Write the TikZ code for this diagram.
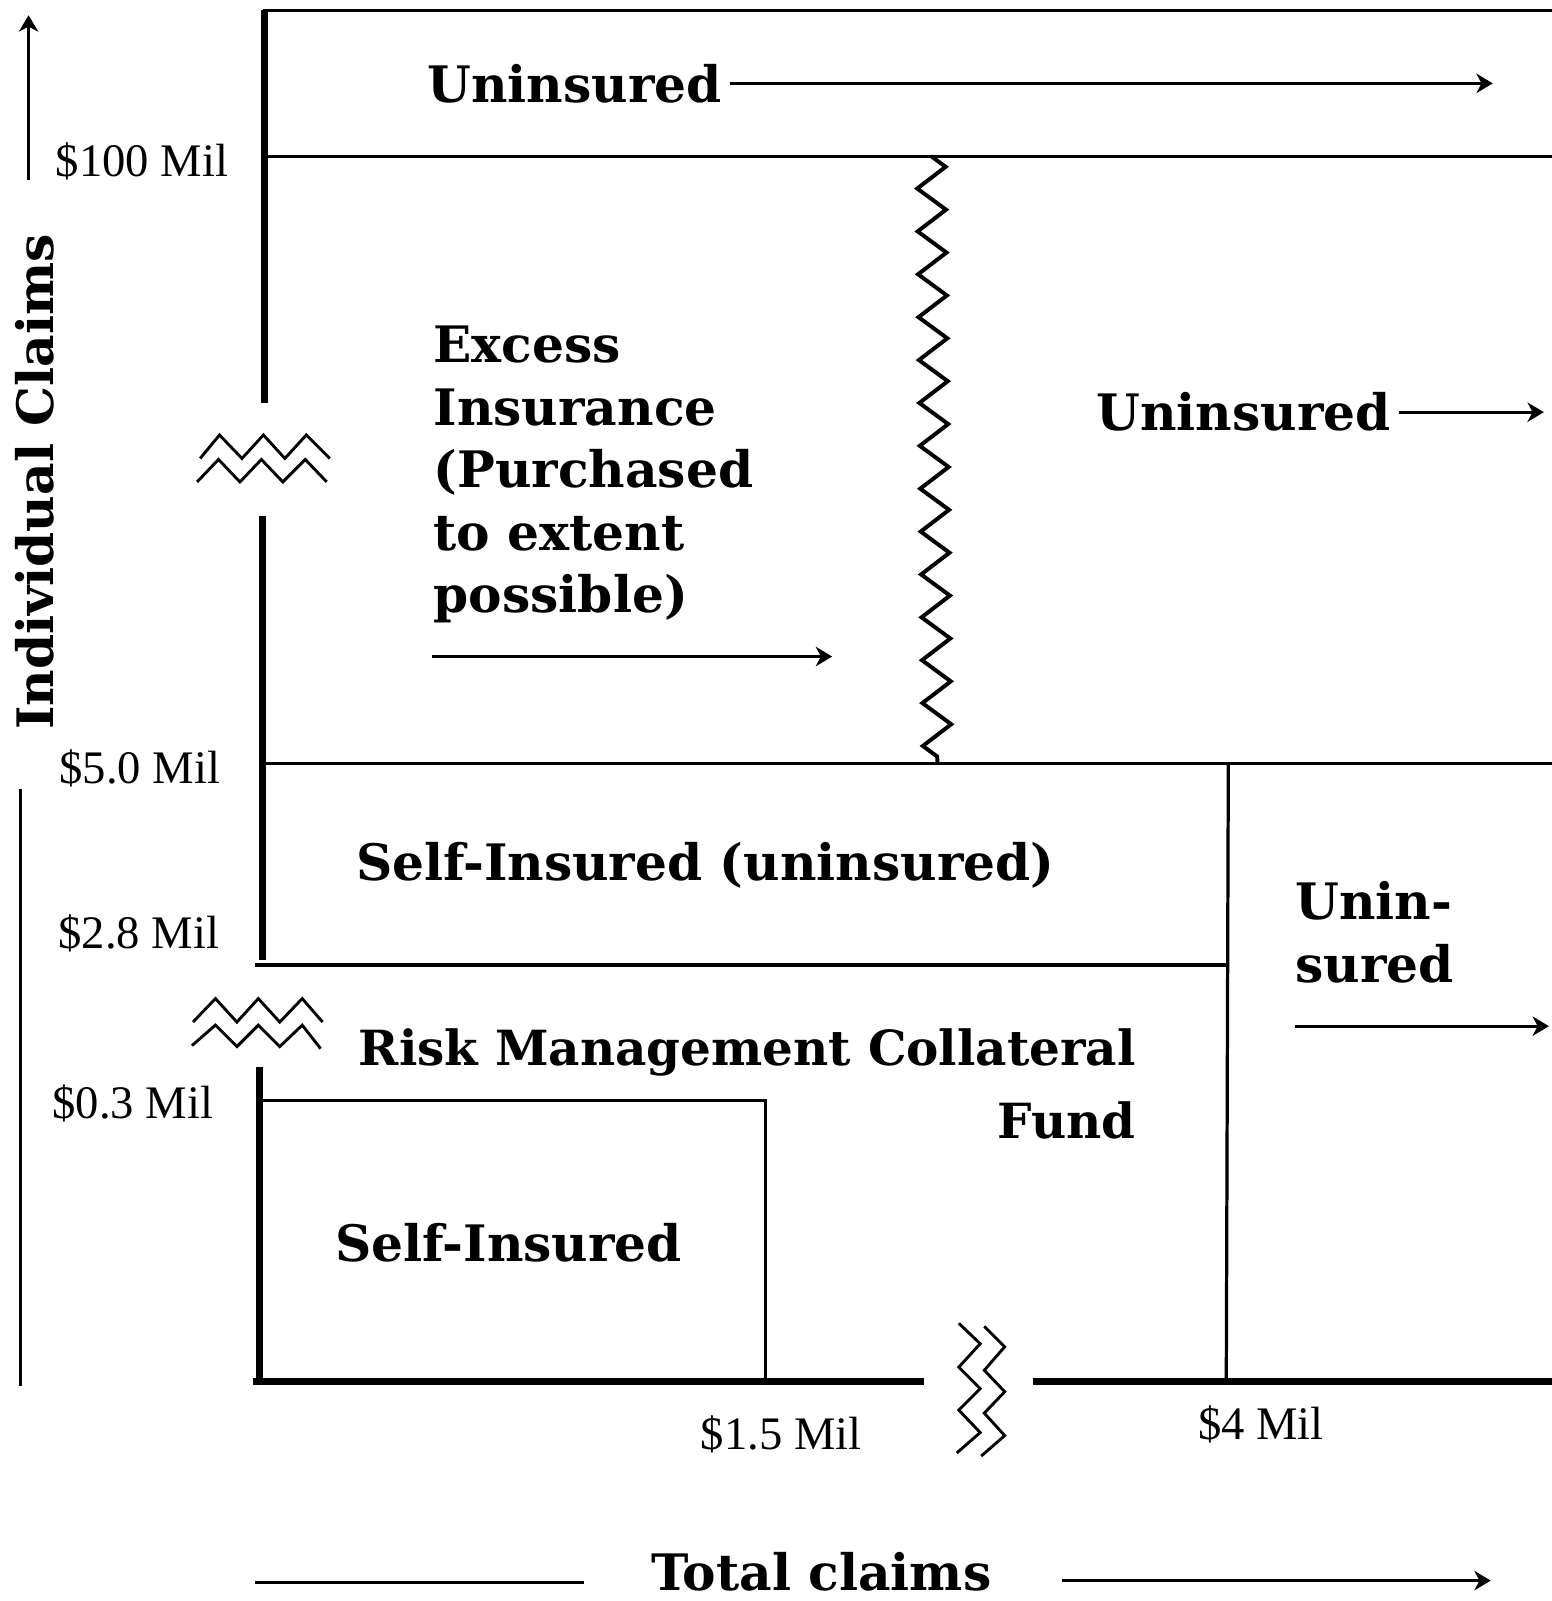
\documentclass[tikz,border=0pt]{standalone}
\usepackage{fontspec}
\setmainfont{DejaVu Serif}
\newfontfamily\tickfont{Liberation Serif}
\usepackage{tikz}
\usetikzlibrary{arrows.meta, decorations.pathmorphing}
\tikzset{
  lbl/.style  ={inner sep=2pt, font=\bfseries\fontsize{14}{17.4}\selectfont},
  tick/.style ={inner sep=0pt, font=\tickfont\fontsize{13}{15}\selectfont},
  frm/.style  ={line width=0.9pt},
  axl/.style  ={line width=2pt},
  brk/.style  ={line width=0.8pt, line join=miter},
  ar/.style   ={-{Stealth[length=1.6mm, width=1.9mm, inset=0.5mm]}, line width=0.9pt},
  wav/.style  ={line width=1.1pt, decorate,
                decoration={zigzag, segment length=4.2mm, amplitude=1.4mm}},
}

\begin{document}
\begin{tikzpicture}[x=0.1mm, y=-0.1mm]
\useasboundingbox (0,0) rectangle (1520,1568);

% frame
\draw[frm] (258,10) -- (1520,10);
\draw[frm] (258,153) -- (1520,153);
\draw[frm] (258,748) -- (1520,748);
\draw[frm] (250,945) -- (1203,945);
\draw[frm] (1203,748) -- (1201,1353);
\draw[frm] (255,1078) -- (750,1078) -- (750,1353);
\draw[axl] (259,10) -- (259,395);
\draw[axl] (257,505) -- (257,940);
\draw[axl] (254,1045) -- (254,1355);
\draw[axl] (248,1353) -- (905,1353);
\draw[axl] (1012,1353) -- (1520,1353);
\draw[wav] (912,153) -- (918,748);

% breaks
\draw[brk] (196,449) -- (215,426) -- (237,449) -- (258,426) -- (279,449) -- (300,426) -- (323,449);
\draw[brk] (193,472) -- (214,450) -- (235,472) -- (256,450) -- (277,472) -- (299,450) -- (320,472);
\draw[brk] (189,1001) -- (211,978) -- (232,1001) -- (253,978) -- (274,1001) -- (296,978) -- (316,1001);
\draw[brk] (188,1024) -- (211,1004) -- (232,1025) -- (253,1004) -- (274,1025) -- (296,1004) -- (314,1027);
\draw[brk] (939,1296) -- (960,1316) -- (939,1339) -- (960,1360) -- (939,1381) -- (960,1403) -- (937,1423);
\draw[brk] (964,1299) -- (984,1319) -- (964,1342) -- (984,1363) -- (964,1384) -- (984,1406) -- (961,1426);

% axes
\node[lbl, rotate=90, anchor=base] (indcl) at (52,472) {Individual Claims};
\coordinate (ya0) at (28,176);
\coordinate (ya1) at (28,15);
\draw[ar] (ya0) -- (ya1);
\draw[frm] (20,773) -- (20,1357);
\node[lbl, anchor=base west] (total) at (630,1558) {Total claims};
\coordinate (xa0) at (250,1550);
\coordinate (xa1) at (572,1550);
\coordinate (xa2) at (1040,1548);
\coordinate (xa3) at (1460,1548);
\draw[frm] (xa0) -- (xa1);
\draw[ar] (xa2) -- (xa3);

% ticks
\node[tick, anchor=base] (t100) at (139,173) {\$100 Mil};
\node[tick, anchor=base] (t50) at (137,767) {\$5.0 Mil};
\node[tick, anchor=base] (t28) at (136,929) {\$2.8 Mil};
\node[tick, anchor=base] (t03) at (130,1095) {\$0.3 Mil};
\node[tick, anchor=base] (t15) at (765,1420) {\$1.5 Mil};
\node[tick, anchor=base] (t4) at (1235,1410) {\$4 Mil};

% regions
\node[lbl, anchor=base west] (unins1) at (411,100) {Uninsured};
\coordinate (ua1) at (1462,82);
\draw[ar] (unins1.east) -- (unins1.east -| ua1);

\node[lbl, anchor=base west, align=left] (excess) at (417,600)
  {Excess\\Insurance\\(Purchased\\to extent\\possible)};
\coordinate (ea0) at (423,643);
\coordinate (ea1) at (815,643);
\draw[ar] (ea0) -- (ea1);

\node[lbl, anchor=base west] (unins2) at (1066,422) {Uninsured};
\coordinate (ua2) at (1512,400);
\draw[ar] (unins2.east) -- (unins2.east -| ua2);

\node[lbl, anchor=base west] (selfun) at (341,862) {Self-Insured (uninsured)};

\node[lbl, anchor=base west, align=left] (unins3) at (1261,962) {Unin-\\sured};
\coordinate (ua3a) at (1268,1005);
\coordinate (ua3b) at (1517,1005);
\draw[ar] (ua3a) -- (ua3b);

\node[lbl, anchor=base east, align=right, font=\bfseries\fontsize{13.5}{17.4}\selectfont]
  (rmcf) at (1120,1115) {Risk Management Collateral\\[3pt]Fund};

\node[lbl, anchor=base west] (selfins) at (321,1235) {Self-Insured};
\end{tikzpicture}
\end{document}
